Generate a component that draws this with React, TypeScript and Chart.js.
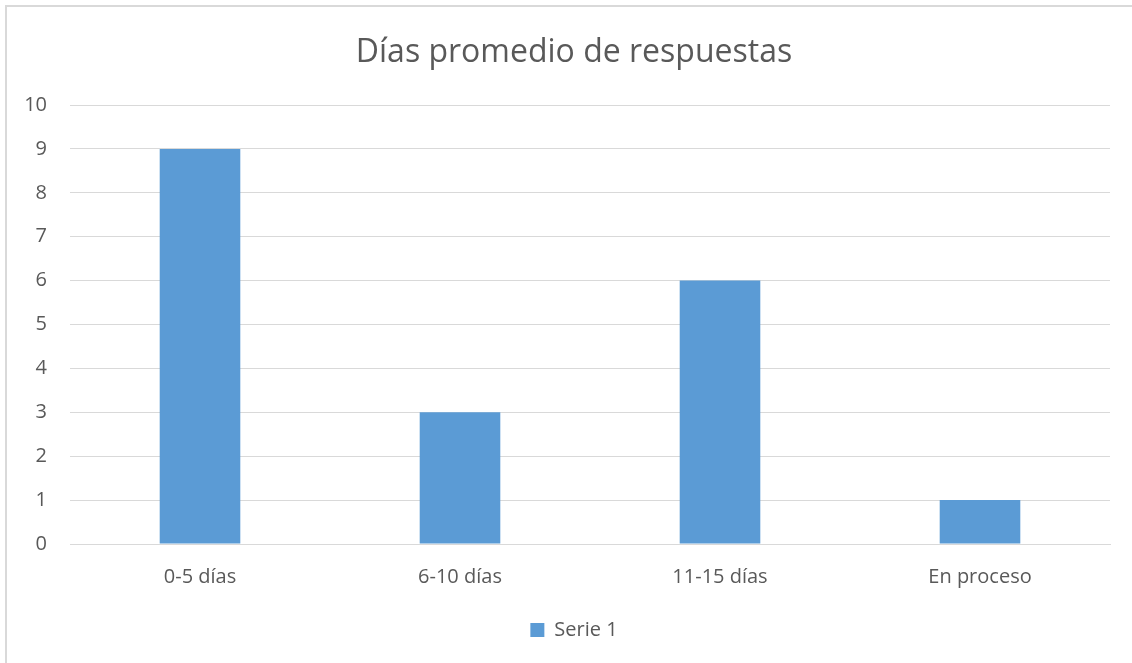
import React, { useEffect, useRef } from "react";
import { Chart, registerables } from "chart.js";

Chart.register(...registerables);

const categories = ["0-5 días", "6-10 días", "11-15 días", "En proceso"];
const serie1 = [9, 3, 6, 1];
const seriesLabel = "Serie 1";
const titleText = "Días promedio de respuestas";

const TEXT = "#595959";
const GRID = "#d9d9d9";
const BAR = "#5B9BD5";
const FONT = "'Open Sans', 'Noto Sans', sans-serif";

// Centre title and legend over a slightly wider frame (the original chart box extends past the right edge)
const centerShift = {
  id: "centerShift",
  afterLayout(chart: any) {
    const area = chart.chartArea;
    const left = area.left - 32;
    const right = area.right;
    [chart.titleBlock, chart.legend].forEach((b: any) => {
      if (!b) return;
      b.left = left;
      b.right = right;
      b.width = right - left;
    });
  },
};

export default function App() {
  const ref = useRef<HTMLCanvasElement | null>(null);

  useEffect(() => {
    if (!ref.current) return;
    const chart = new Chart(ref.current, {
      type: "bar",
      data: {
        labels: categories,
        datasets: [
          {
            label: seriesLabel,
            data: serie1,
            backgroundColor: BAR,
            borderWidth: 0,
            barPercentage: 0.62,
            categoryPercentage: 0.5,
          },
        ],
      },
      plugins: [centerShift],
      options: {
        animation: false,
        responsive: true,
        maintainAspectRatio: false,
        layout: { padding: { left: 0, right: 22, top: 0, bottom: 13 } },
        plugins: {
          title: {
            display: true,
            text: titleText,
            color: TEXT,
            font: { family: FONT, size: 32, weight: "normal" },
            padding: { top: 34, bottom: 32.6 },
          },
          legend: {
            display: true,
            position: "bottom",
            labels: {
              color: TEXT,
              font: { family: FONT, size: 20 },
              boxWidth: 14,
              boxHeight: 14,
              padding: 14,
            },
          },
          tooltip: { enabled: false },
        },
        scales: {
          x: {
            grid: { display: false, drawTicks: false },
            border: { display: true, color: GRID, width: 1 },
            ticks: {
              color: TEXT,
              font: { family: FONT, size: 20 },
              padding: 21,
            },
            afterFit: (scale: any) => {
              scale.height = 62;
            },
          },
          y: {
            min: 0,
            max: 10,
            ticks: {
              stepSize: 1,
              color: TEXT,
              font: { family: FONT, size: 20 },
              padding: 23,
            },
            grid: { color: GRID, lineWidth: 1, drawTicks: false },
            border: { display: false },
            afterFit: (scale: any) => {
              scale.width = 70;
            },
          },
        },
      },
    });
    return () => chart.destroy();
  }, []);

  return (
    <div
      style={{
        position: "fixed",
        left: 0,
        top: 0,
        width: 1132,
        height: 663,
        background: "#fff",
        overflow: "hidden",
      }}
    >
      <canvas ref={ref} />
      <div
        style={{
          position: "absolute",
          left: 5,
          top: 5,
          width: 2000,
          height: 2000,
          borderLeft: "2px solid #d9d9d9",
          borderTop: "2px solid #d9d9d9",
          pointerEvents: "none",
        }}
      />
    </div>
  );
}
